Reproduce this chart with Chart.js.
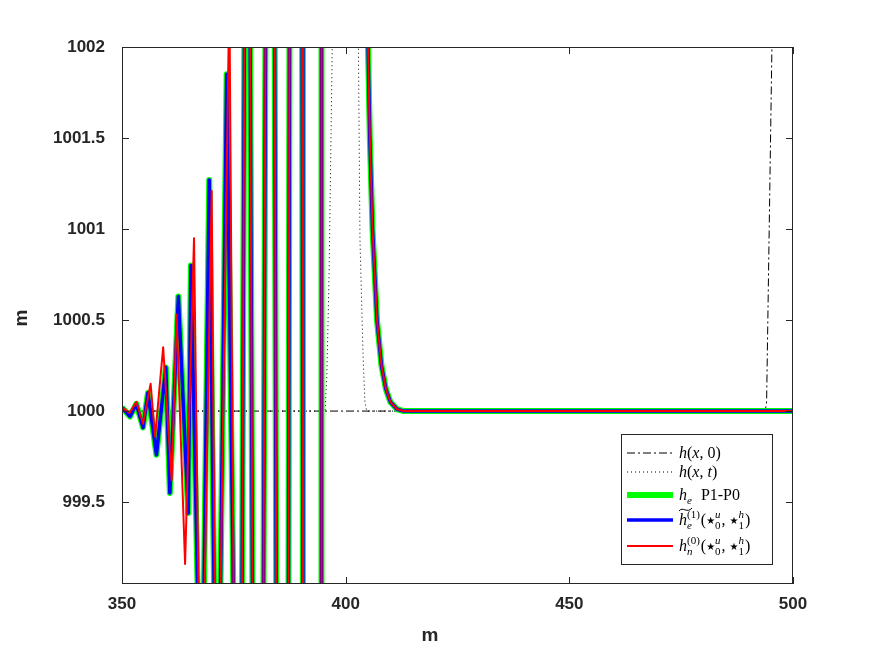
<!DOCTYPE html>
<html>
<head>
<meta charset="utf-8">
<script src="https://cdn.jsdelivr.net/npm/chart.js@4.4.0/dist/chart.umd.min.js"></script>
<style>
  html, body { margin: 0; padding: 0; background: #fff; }
  #wrap { width: 875px; height: 657px; }
</style>
</head>
<body>
<div id="wrap"><canvas id="chart" width="875" height="657"></canvas></div>
<script>
const xTicks = [350, 400, 450, 500];
const yTicks = [999.5, 1000, 1000.5, 1001, 1001.5, 1002];

// h(x,0)
const h0X = [350, 493.8, 494.1, 495.9];
const h0Y = [1000, 1000, 1000.05, 1003];

// h(x,t)
const htX = [350, 395.4, 395.8, 396.3, 397.0, 397.2, 402.7, 402.85, 403.2, 403.9, 404.3, 404.7, 500];
const htY = [1000, 1000, 1000.2, 1000.76, 1002.0, 1002.6, 1002.6, 1002.0, 1000.94, 1000.3, 1000.05, 1000, 1000];

// h_e P1-P0 (the tilde h_e curve sits on top of it)
const heX = [350, 351.8, 353.2, 354.7, 355.8, 357.7, 359.8, 360.7, 362.6, 364.8, 365.4,
  367.1, 368.2, 369.5, 370.7, 371.9, 373.4, 375.0, 376.8, 377.4, 378.6, 379.2, 381.6,
  382.1, 384.1, 384.5, 387.2, 387.45, 390.25, 390.45, 394.5, 394.6, 404.9,
  405.0, 405.4, 406.0, 407.0, 408.0, 409.0, 410.0, 411.5, 413.0, 500];
const heY = [1000.02, 999.97, 1000.04, 999.91, 1000.10, 999.76, 1000.24, 999.55, 1000.63, 999.44, 1000.80,
  998.8, 998.8, 1001.27, 998.8, 998.8, 1001.85, 998.8, 998.8, 1002.3, 1002.3, 998.8, 998.8,
  1002.3, 1002.3, 998.8, 998.8, 1002.3, 1002.3, 998.8, 998.8, 1002.3, 1002.3,
  1002.0, 1001.5, 1001.0, 1000.5, 1000.25, 1000.12, 1000.05, 1000.01, 1000.0, 1000.0];

// h_n^(0)
const hnX = [350, 351.7, 353.2, 354.7, 356.4, 357.4, 359.2, 361.1, 362.2, 364.1, 366.1,
  367.2, 368.3, 370.05, 370.8, 371.9, 374.0, 375.0, 376.8, 377.4, 378.6, 379.2, 381.6,
  382.1, 384.1, 384.5, 387.2, 387.45, 390.25, 390.45, 394.5, 394.6, 404.9,
  405.0, 405.4, 406.0, 407.0, 408.0, 409.0, 410.0, 411.5, 413.0, 500];
const hnY = [1000.02, 999.99, 1000.05, 999.93, 1000.15, 999.86, 1000.35, 999.62, 1000.53, 999.16, 1000.95,
  998.8, 998.8, 1001.21, 998.8, 998.8, 1002.3, 998.8, 998.8, 1002.3, 1002.3, 998.8, 998.8,
  1002.3, 1002.3, 998.8, 998.8, 1002.3, 1002.3, 998.8, 998.8, 1002.3, 1002.3,
  1002.0, 1001.5, 1001.0, 1000.5, 1000.25, 1000.12, 1000.05, 1000.01, 1000.0, 1000.0];

const pts = (xs, ys) => xs.map((x, i) => ({ x: x, y: ys[i] }));
const axisColor = "#262626";
const serif = '"Liberation Serif", "DejaVu Serif", serif';

function put(ctx, p, x, y, small) {
  const size = p.size || (small ? 11 : 16);
  ctx.font = (p.i ? "italic " : "") + size + "px " + (p.star ? '"DejaVu Sans", sans-serif' : serif);
  ctx.fillText(p.t, x, y + (p.dy || 0));
  return ctx.measureText(p.t).width;
}

function drawMath(ctx, x, y, parts) {
  for (const p of parts) {
    if (p.stack) {
      const w1 = put(ctx, p.stack[0], x, y - 7, true);
      const w2 = put(ctx, p.stack[1], x, y + 4, true);
      x += Math.max(w1, w2) + 1;
    } else {
      x += put(ctx, p, x, y, false) + (p.gap || 0);
    }
  }
}

const args = [
  { t: "(" },
  { t: "\u2605", star: true, size: 10, dy: -1 }, { stack: [{ t: "u", i: true }, { t: "0" }] },
  { t: ", " },
  { t: "\u2605", star: true, size: 10, dy: -1 }, { stack: [{ t: "h", i: true }, { t: "1" }] },
  { t: ")" },
];

const decor = {
  id: "decor",
  afterDraw(chart) {
    const ctx = chart.ctx;
    const a = chart.chartArea;
    const xs = chart.scales.x, ys = chart.scales.y;
    ctx.save();
    ctx.strokeStyle = axisColor;
    ctx.lineWidth = 1;
    ctx.strokeRect(a.left + 0.5, a.top + 0.5, a.right - a.left - 1, a.bottom - a.top - 1);
    ctx.beginPath();
    xTicks.forEach((v) => {
      const px = Math.round(xs.getPixelForValue(v)) + 0.5;
      ctx.moveTo(px, a.bottom); ctx.lineTo(px, a.bottom - 7);
      ctx.moveTo(px, a.top); ctx.lineTo(px, a.top + 7);
    });
    yTicks.forEach((v) => {
      const py = Math.round(ys.getPixelForValue(v)) + 0.5;
      ctx.moveTo(a.left, py); ctx.lineTo(a.left + 7, py);
      ctx.moveTo(a.right, py); ctx.lineTo(a.right - 7, py);
    });
    ctx.stroke();

    // axis titles
    ctx.fillStyle = axisColor;
    ctx.font = "bold 19px 'Liberation Sans', Arial, sans-serif";
    ctx.textAlign = "center";
    ctx.textBaseline = "middle";
    ctx.fillText("m", 430, 636);
    ctx.save();
    ctx.translate(22, 318);
    ctx.rotate(-Math.PI / 2);
    ctx.fillText("m", 0, 0);
    ctx.restore();

    // legend
    const bx = 621, by = 434, bw = 151, bh = 130;
    ctx.fillStyle = "#fff";
    ctx.fillRect(bx, by, bw, bh);
    ctx.strokeStyle = axisColor;
    ctx.strokeRect(bx + 0.5, by + 0.5, bw, bh);
    const rows = [453, 472, 495, 520, 546];
    const samples = [
      { c: "#000", w: 1, d: [8, 3, 2, 3] },
      { c: "#000", w: 1, d: [1, 3] },
      { c: "#00ff00", w: 6, d: [] },
      { c: "#0000ff", w: 3.5, d: [] },
      { c: "#ff0000", w: 2, d: [] },
    ];
    samples.forEach((s, i) => {
      ctx.beginPath();
      ctx.strokeStyle = s.c;
      ctx.lineWidth = s.w;
      ctx.setLineDash(s.d);
      ctx.moveTo(627, rows[i]);
      ctx.lineTo(673, rows[i]);
      ctx.stroke();
    });
    ctx.setLineDash([]);
    ctx.fillStyle = "#000";
    ctx.textAlign = "left";
    ctx.textBaseline = "alphabetic";
    const tx = 679;
    drawMath(ctx, tx, rows[0] + 5, [{ t: "h", i: true }, { t: "(" }, { t: "x", i: true }, { t: ", 0)" }]);
    drawMath(ctx, tx, rows[1] + 5, [{ t: "h", i: true }, { t: "(" }, { t: "x", i: true }, { t: ", " }, { t: "t", i: true }, { t: ")" }]);
    drawMath(ctx, tx, rows[2] + 5, [{ t: "h", i: true }, { stack: [{ t: "" }, { t: "e", i: true }] }, { t: "  P1-P0" }]);
    drawMath(ctx, tx, rows[3] + 5, [{ t: "h", i: true }, { stack: [{ t: "(1)" }, { t: "e", i: true }] }].concat(args));
    drawMath(ctx, tx, rows[4] + 5, [{ t: "h", i: true }, { stack: [{ t: "(0)" }, { t: "n", i: true }] }].concat(args));
    // wide tilde over h_e
    ctx.beginPath();
    ctx.strokeStyle = "#000";
    ctx.lineWidth = 1;
    const ty = rows[3] - 10;
    ctx.moveTo(tx, ty + 1);
    ctx.bezierCurveTo(tx + 4, ty - 4, tx + 8, ty + 4, tx + 13, ty - 2);
    ctx.stroke();
    ctx.restore();
  },
};

const tickFont = { family: "'Liberation Sans', Arial, sans-serif", size: 17, weight: "bold" };

new Chart(document.getElementById("chart").getContext("2d"), {
  type: "line",
  data: {
    datasets: [
      { label: "h(x,0)", data: pts(h0X, h0Y), borderColor: "#000", borderWidth: 1, borderDash: [8, 3, 2, 3], order: 4 },
      { label: "h(x,t)", data: pts(htX, htY), borderColor: "#000", borderWidth: 1, borderDash: [1, 3], order: 3 },
      { label: "he P1-P0", data: pts(heX, heY), borderColor: "#00ff00", borderWidth: 6, order: 2 },
      { label: "he~(1)", data: pts(heX, heY), borderColor: "#0000ff", borderWidth: 3.5, order: 1 },
      { label: "hn(0)", data: pts(hnX, hnY), borderColor: "#ff0000", borderWidth: 2, order: 0 },
    ],
  },
  options: {
    responsive: false,
    animation: false,
    layout: { padding: { top: 47, right: 82, left: 0, bottom: 0 } },
    elements: { point: { radius: 0 }, line: { tension: 0, borderJoinStyle: "round" } },
    plugins: { legend: { display: false }, tooltip: { enabled: false } },
    scales: {
      x: {
        type: "linear",
        min: 350,
        max: 500,
        grid: { display: false, drawTicks: false },
        border: { display: false },
        afterBuildTicks: (s) => { s.ticks = xTicks.map((v) => ({ value: v })); },
        afterFit: (s) => { s.height = 73; },
        ticks: { font: tickFont, color: axisColor, padding: 10, maxRotation: 0, callback: (v) => String(v) },
      },
      y: {
        type: "linear",
        min: 999.05,
        max: 1002,
        grid: { display: false, drawTicks: false },
        border: { display: false },
        afterBuildTicks: (s) => { s.ticks = yTicks.map((v) => ({ value: v })); },
        afterFit: (s) => { s.width = 122; },
        ticks: { font: tickFont, color: axisColor, padding: 17, callback: (v) => String(v) },
      },
    },
  },
  plugins: [decor],
});
</script>
</body>
</html>
